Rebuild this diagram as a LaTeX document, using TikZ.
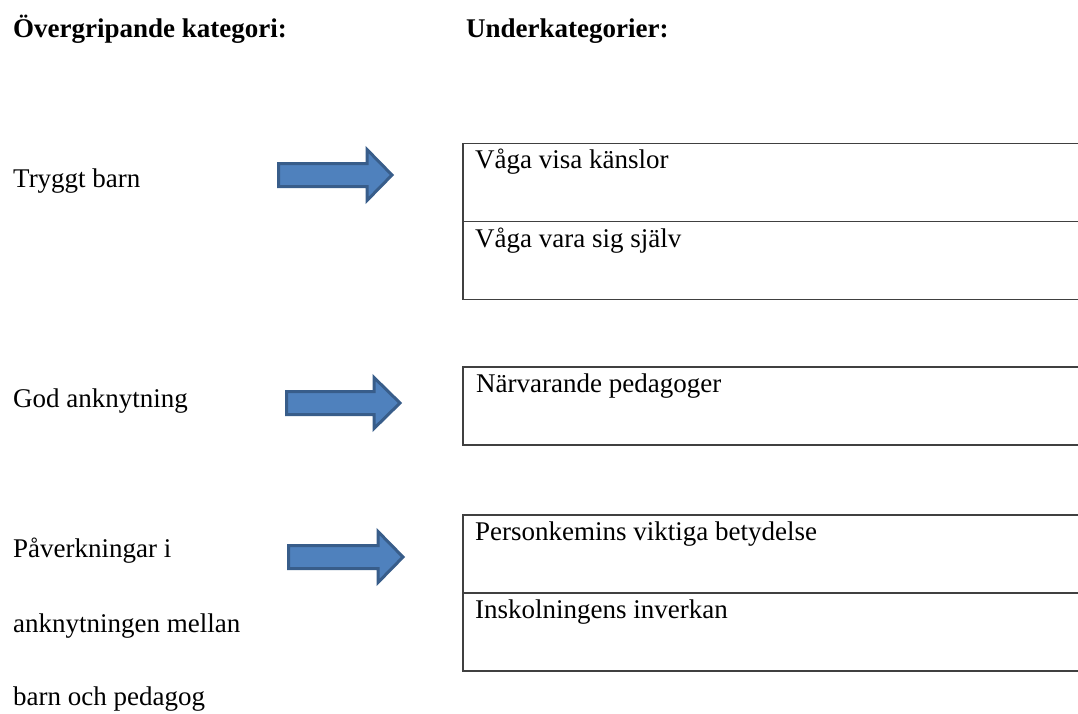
\documentclass[tikz,border=0pt]{standalone}
\usepackage{fontspec}
\setmainfont{Liberation Serif}
\definecolor{arrowfill}{HTML}{4F81BD}
\definecolor{arrowline}{HTML}{385D8A}
\definecolor{boxline}{HTML}{404040}
\begin{document}
\begin{tikzpicture}[x=1pt,y=-1pt,
  txt/.style={anchor=base west, inner sep=0pt, font=\fontsize{27}{32}\selectfont},
  head/.style={txt, font=\fontsize{27}{32}\selectfont\bfseries},
  cell/.style={draw=boxline, line width=1.6pt, anchor=north west, inner sep=0pt,
    minimum width=640pt, minimum height=78pt},
  blockarrow/.style={fill=arrowfill, draw=arrowline, line width=3pt, line join=miter}]
\useasboundingbox (0,0) rectangle (1078,713);
\clip (0,0) rectangle (1078,713);

% headers
\node[head] (h1) at (13,37) {Övergripande kategori:};
\node[head] (h2) at (466,37) {Underkategorier:};

% left categories
\node[txt] (c1) at (13,187) {Tryggt barn};
\node[txt] (c2) at (13,407) {God anknytning};
\node[txt] (c3a) at (13,557) {Påverkningar i};
\node[txt] (c3b) at (13,632) {anknytningen mellan};
\node[txt] (c3c) at (13,705) {barn och pedagog};

% block arrows
\draw[blockarrow] (278.5,163.5) -- (367,163.5) -- (367,149.5) -- (392,175)
  -- (367,200.5) -- (367,186.5) -- (278.5,186.5) -- cycle;
\draw[blockarrow] (286.5,391.5) -- (374,391.5) -- (374,377.5) -- (400,403)
  -- (374,428.5) -- (374,414.5) -- (286.5,414.5) -- cycle;
\draw[blockarrow] (288.5,545.5) -- (378,545.5) -- (378,531.5) -- (403,557)
  -- (378,582.5) -- (378,568.5) -- (288.5,568.5) -- cycle;

% subcategory cells
\node[cell] (s1) at (462,142.5) {};
\node[cell] (s2) at (462,220.5) {};
\node[cell] (s3) at (462,366) {};
\node[cell] (s4) at (462,514) {};
\node[cell] (s5) at (462,592) {};

\node[txt] (t1) at (475,168) {Våga visa känslor};
\node[txt] (t2) at (475,247) {Våga vara sig själv};
\node[txt] (t3) at (476,392) {Närvarande pedagoger};
\node[txt] (t4) at (475,540) {Personkemins viktiga betydelse};
\node[txt] (t5) at (475,618) {Inskolningens inverkan};
\end{tikzpicture}
\end{document}
